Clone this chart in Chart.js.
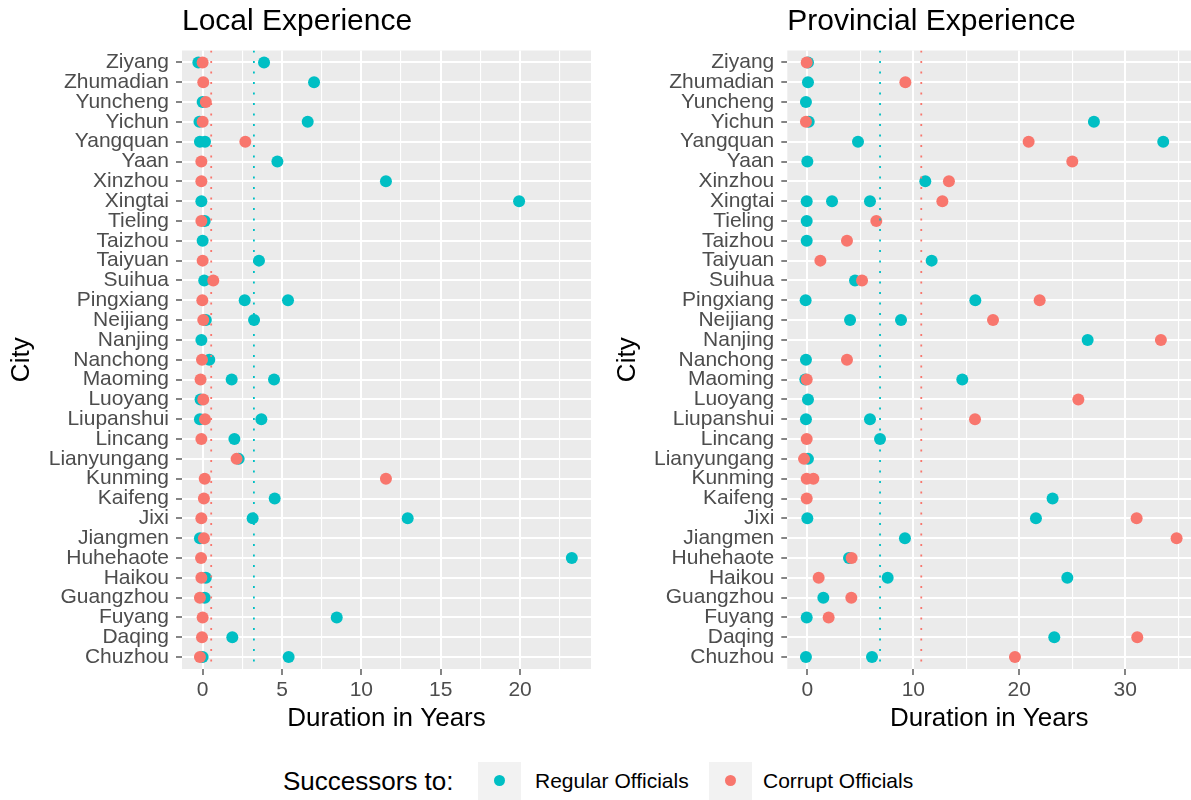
<!DOCTYPE html>
<html>
<head>
<meta charset="utf-8">
<script src="https://cdn.jsdelivr.net/npm/chart.js@4.4.1/dist/chart.umd.min.js"></script>
<style>
  body { margin: 0; background: #fff; width: 1191px; height: 800px; position: relative; overflow: hidden;
         font-family: "Liberation Sans", Arial, sans-serif; }
  canvas { position: absolute; top: 0; }
  #leftChart { left: 0; }
  #rightChart { left: 606px; }
  .lg { position: absolute; top: 762px; height: 38px; line-height: 38px; color: #000; white-space: nowrap; }
  .lgTitle { left: 283px; font-size: 26px; }
  .lgKey { width: 43px; background: #F2F2F2; }
  .lgKey span { position: absolute; left: 16px; top: 13px; width: 11px; height: 11px; border-radius: 50%; }
  .lgText { font-size: 21px; }
</style>
</head>
<body>
<canvas id="leftChart" width="591" height="738"></canvas>
<canvas id="rightChart" width="585" height="738"></canvas>

<div class="lg lgTitle">Successors to:</div>
<div class="lg lgKey" style="left:478px"><span id="keyRegular"></span></div>
<div class="lg lgText" style="left:535px">Regular Officials</div>
<div class="lg lgKey" style="left:709px"><span id="keyCorrupt"></span></div>
<div class="lg lgText" style="left:763px">Corrupt Officials</div>

<script>
const cities = ["Ziyang", "Zhumadian", "Yuncheng", "Yichun", "Yangquan", "Yaan", "Xinzhou", "Xingtai",
  "Tieling", "Taizhou", "Taiyuan", "Suihua", "Pingxiang", "Neijiang", "Nanjing", "Nanchong", "Maoming",
  "Luoyang", "Liupanshui", "Lincang", "Lianyungang", "Kunming", "Kaifeng", "Jixi", "Jiangmen",
  "Huhehaote", "Haikou", "Guangzhou", "Fuyang", "Daqing", "Chuzhou"];

// one list of durations per city, same order as cities
const localRegular = [[-0.27, 3.87], [7.02], [0], [-0.2, 6.62], [-0.17, 0.15], [4.71], [11.55], [-0.08, 19.94],
  [0.13], [0], [3.55], [0.1], [2.65, 5.38], [0.2, 3.24], [-0.08], [0.42], [1.83, 4.5],
  [-0.13], [-0.17, 3.7], [2.0], [2.27], [], [4.54], [3.15, 12.92], [-0.17],
  [23.26], [0.2], [0.13], [8.45], [1.87], [0, 5.42]];
const localCorrupt = [[0], [0.04], [0.2], [0], [2.69], [-0.08], [-0.08], [],
  [-0.08], [], [0], [0.67], [-0.02], [0.04], [], [-0.04], [-0.13],
  [0.04], [0.15], [-0.08], [2.14], [0.13, 11.55], [0.08], [-0.08], [0.08],
  [-0.1], [-0.08], [-0.17], [0], [-0.04], [-0.17]];
const provRegular = [[0.06], [0.06], [-0.13], [0.13, 27.04], [4.78, 33.58], [0], [11.13], [-0.06, 2.33, 5.91],
  [-0.06], [-0.06], [11.73], [4.5], [-0.16, 15.85], [4.03, 8.84], [26.45], [-0.13], [-0.19, 14.62],
  [0.06], [-0.13, 5.91], [6.86], [0.06], [], [23.14], [0, 21.57], [9.21],
  [3.93], [7.58, 24.53], [1.51], [-0.06], [23.3], [-0.13, 6.1]];
const provCorrupt = [[-0.06], [9.25], [], [-0.13], [20.88], [25.0], [13.36], [12.74],
  [6.51], [3.74], [1.23], [5.16], [21.92], [17.52], [33.36], [3.74], [-0.06],
  [25.57], [15.82], [-0.06], [-0.31], [-0.06, 0.57], [-0.06], [31.07], [34.84],
  [4.18], [1.07], [4.15], [2.01], [31.13], [19.59]];

// dotted mean lines: [regular, corrupt]
const localMeans = [3.23, 0.54];
const provMeans = [6.86, 10.75];

const localTicks = [0, 5, 10, 15, 20];
const localMinor = [2.5, 7.5, 12.5, 17.5, 22.5];
const provTicks = [0, 10, 20, 30];
const provMinor = [5, 15, 25, 35];

const REGULAR = "#00BFC4";
const CORRUPT = "#F8766D";
const FONT = '"Liberation Sans", Arial, sans-serif';
const Y_MIN = -0.6, Y_MAX = cities.length - 0.4;

document.getElementById("keyRegular").style.background = REGULAR;
document.getElementById("keyCorrupt").style.background = CORRUPT;

const panelBg = {
  id: "panelBg",
  beforeDraw(chart) {
    const a = chart.chartArea, c = chart.ctx;
    c.save();
    c.fillStyle = "#EBEBEB";
    c.fillRect(a.left, a.top, a.right - a.left, a.bottom - a.top);
    c.restore();
  }
};

const panelTitle = {
  id: "panelTitle",
  afterDraw(chart, args, opts) {
    const c = chart.ctx;
    c.save();
    c.font = "30px " + FONT;
    c.fillStyle = "#000";
    c.textBaseline = "alphabetic";
    c.fillText(opts.text, chart.chartArea.left, 29.5);
    c.restore();
  }
};

function toPoints(lists) {
  const pts = [];
  lists.forEach((vals, i) => vals.forEach(v => pts.push({ x: v, y: i })));
  return pts;
}

function meanLine(value, color) {
  return {
    type: "line",
    data: [{ x: value, y: Y_MIN }, { x: value, y: Y_MAX }],
    borderColor: color,
    borderWidth: 1.8,
    borderDash: [2, 8.5],
    pointRadius: 0,
    fill: false
  };
}

function makePanel(id, title, regular, corrupt, means, xMin, xMax, major, minor, yWidth) {
  const allTicks = major.concat(minor).sort((a, b) => a - b);
  const isMajor = ctx => ctx.tick && major.includes(ctx.tick.value);
  return new Chart(document.getElementById(id), {
    type: "scatter",
    data: {
      datasets: [
        meanLine(means[1], CORRUPT),
        meanLine(means[0], REGULAR),
        { data: toPoints(corrupt), backgroundColor: CORRUPT, pointRadius: 6, borderWidth: 0 },
        { data: toPoints(regular), backgroundColor: REGULAR, pointRadius: 6, borderWidth: 0 }
      ]
    },
    options: {
      responsive: false,
      animation: false,
      events: [],
      layout: { autoPadding: false, padding: { left: 0, right: 0, top: 50.5, bottom: 0 } },
      plugins: {
        legend: { display: false },
        tooltip: { enabled: false },
        panelTitle: { text: title }
      },
      scales: {
        x: {
          type: "linear",
          min: xMin,
          max: xMax,
          afterBuildTicks: axis => { axis.ticks = allTicks.map(v => ({ value: v })); },
          afterFit: axis => { axis.height = 69; },
          border: { display: false },
          grid: {
            color: "#FFFFFF",
            lineWidth: ctx => isMajor(ctx) ? 2 : 1.1,
            tickColor: ctx => isMajor(ctx) ? "#333333" : "rgba(0,0,0,0)",
            tickWidth: 1.2,
            tickLength: 6
          },
          ticks: {
            autoSkip: false,
            maxRotation: 0,
            padding: 3,
            color: "#4D4D4D",
            font: { family: FONT, size: 21 },
            callback: v => major.includes(v) ? String(v) : ""
          },
          title: {
            display: true,
            text: "Duration in Years",
            color: "#000",
            font: { family: FONT, size: 26 },
            padding: { top: 0, bottom: 4 }
          }
        },
        y: {
          type: "linear",
          reverse: true,
          min: Y_MIN,
          max: Y_MAX,
          afterBuildTicks: axis => { axis.ticks = cities.map((c, i) => ({ value: i })); },
          afterFit: axis => { axis.width = yWidth; },
          border: { display: false },
          grid: { color: "#FFFFFF", lineWidth: 2, tickColor: "#333333", tickWidth: 1.2, tickLength: 6 },
          ticks: {
            autoSkip: false,
            padding: 7,
            color: "#4D4D4D",
            font: { family: FONT, size: 21 },
            callback: v => cities[v]
          },
          title: {
            display: true,
            text: "City",
            color: "#000",
            font: { family: FONT, size: 26 },
            padding: { top: 6, bottom: 0 }
          }
        }
      }
    },
    plugins: [panelBg, panelTitle]
  });
}

makePanel("leftChart", "Local Experience", localRegular, localCorrupt, localMeans,
  -1.3, 24.47, localTicks, localMinor, 182);
makePanel("rightChart", "Provincial Experience", provRegular, provCorrupt, provMeans,
  -1.89, 36.2, provTicks, provMinor, 181.3);
</script>
</body>
</html>
